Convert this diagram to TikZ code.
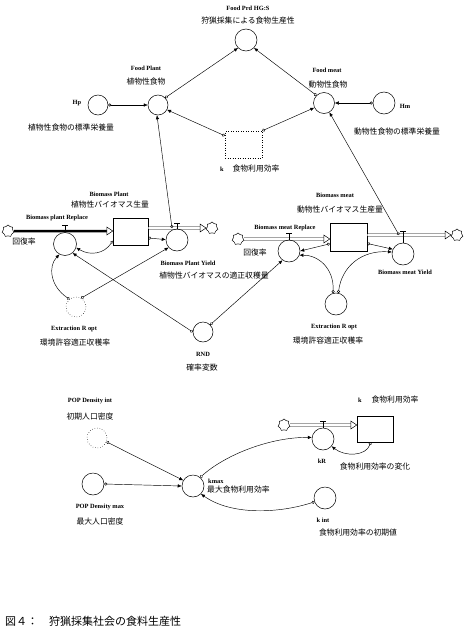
\documentclass[tikz,border=0pt]{standalone}
\usepackage{fontspec}
\setmainfont{Liberation Serif}
\newfontfamily\jp{Noto Sans CJK JP}
\usetikzlibrary{arrows.meta,calc,shapes.symbols}
\newcommand\flowtip[1]{\draw[fill=white,line width=0.5pt] (#1) -- ++(-6,-4) -- ++(0,8) -- cycle;}
\begin{document}
\begin{tikzpicture}[x=1pt,y=-1pt,
 lat/.style={font=\fontsize{6.4}{7}\selectfont\bfseries, inner sep=0pt},
 jpl/.style={font=\jp\fontsize{7.8}{9}\selectfont, inner sep=0pt},
 aux/.style={circle, draw, line width=0.5pt, minimum size=#1, inner sep=0pt},
 aux/.default=21pt,
 stockbox/.style={draw, line width=0.5pt, minimum width=36pt, minimum height=27pt, inner sep=0pt},
 link/.style={line width=0.45pt, {Circle[open,length=3pt,width=3pt]}-{Latex[length=4pt,width=3.5pt]}},
 pipe/.style={double distance=1.6pt, line width=0.5pt},
 cloudy/.style={cloud, cloud puffs=7, draw, minimum width=12pt, minimum height=12pt, aspect=1, inner sep=0pt, line width=0.5pt}
]
\fill[white] (0,0) rectangle (466,629);
\useasboundingbox (0,0) rectangle (466,629);

% ---------- top part ----------
\node[lat] (l1) at (248,8) {Food Prd HG:S};
\node[jpl] (l2) at (248,21) {狩猟採集による食物生産性};
\node[aux=22pt] (top) at (246,40) {};

\node[lat] (l3) at (146,68) {Food Plant};
\node[jpl] (l4) at (146,82) {植物性食物};
\node[aux=20pt] (fp) at (158,105) {};

\node[aux=20pt] (hp) at (98,105) {};
\node[lat] (l5) at (77,103) {Hp};
\node[jpl] (l6) at (71,128) {植物性食物の標準栄養量};

\node[lat] (l7) at (327,70) {Food meat};
\node[jpl] (l8) at (328,85) {動物性食物};
\node[aux=21pt] (fm) at (324,103) {};

\node[aux=22pt] (hm) at (384,103) {};
\node[lat] (l9) at (405,106) {Hm};
\node[jpl] (l10) at (397,132) {動物性食物の標準栄養量};

\node[draw, dotted, line width=0.5pt, minimum width=37pt, minimum height=27pt, inner sep=0pt] (kg) at (243.5,144.5) {};
\node[lat] (l11) at (222,169) {k};
\node[jpl] (l12) at (256,169) {食物利用効率};

\draw[link] (fp.45) -- (top.225);
\draw[link] (fm.135) -- (top.315);
\draw[link] (hp.east) -- (fp.west);
\draw[link] (hm.west) -- (fm.east);
\draw[link] (kg.155) -- (fp.-28);
\draw[link] (kg.north east) -- (fm.206);

% ---------- biomass plant ----------
\node[lat] (l13) at (109,194) {Biomass Plant};
\node[jpl] (l14) at (110,205) {植物性バイオマス生量};
\node[stockbox, minimum width=35pt] (bp) at (130.5,231.5) {};
\node[cloudy] (cl1) at (8,231) {};
\node[cloudy] (cl2) at (212,228) {};
\draw[line width=2.5pt] (cl1.east) -- ($(bp.west |- cl1)+(-6,0)$);
\flowtip{bp.west |- cl1}
\draw[pipe] (bp.east |- cl2) -- ($(cl2.west)+(-6,0)$);
\flowtip{cl2.west}

\node[lat] (l15) at (57,218) {Biomass plant Replace};
\node[jpl] (l16) at (24,242) {回復率};
\node[aux=23pt] (bpr) at (65,244) {};
\draw[line width=0.5pt] (bpr.north) -- ++(0,-7) ++(-3,0) -- ++(6,0);

\node[aux=22pt] (bpy) at (177,240) {};
\draw[line width=0.5pt] (bpy.north) -- ++(0,-6) ++(-3,0) -- ++(6,0);
\node[lat] (l17) at (188,263) {Biomass Plant Yield};
\node[jpl] (l18) at (214,276) {植物性バイオマスの適正収穫量};
\coordinate (bpyv) at (172,228);
\draw[link] (bpyv) -- (fp.-96);

\draw[link] (bp.-20) -- (bpy.178);
\draw[link] (bp.208) .. controls (104,254) and (90,256) .. (bpr.-18);

\node[aux=20pt, dotted] (erl) at (76,307) {};
\node[lat] (l19) at (74,329) {Extraction R opt};
\node[jpl] (l20) at (75,343) {環境許容適正収穫率};
\draw[link] (erl.130) .. controls (50,286) and (48,266) .. (bpr.-118);
\draw[link] (erl.60) -- (bpy.222);

\node[aux=20pt] (rnd) at (203,332) {};
\node[lat] (l21) at (203,354) {RND};
\node[jpl] (l22) at (202,368) {確率変数};
\draw[link] (rnd.west) -- (bpr.-50);

% ---------- biomass meat ----------
\node[lat] (l23) at (335,195) {Biomass meat};
\node[jpl] (l24) at (340,210) {動物性バイオマス生産量};
\node[stockbox, minimum width=37pt, minimum height=28pt] (bm) at (348.5,237) {};
\node[cloudy] (cl3) at (238,239) {};
\node[cloudy] (cl4) at (457,235) {};
\draw[pipe] (cl3.east) -- ($(bm.west |- cl3)+(-6,0)$);
\flowtip{bm.west |- cl3}
\draw[pipe] (bm.east |- cl4) -- ($(cl4.west)+(-6,0)$);
\flowtip{cl4.west}

\node[lat] (l25) at (285,228) {Biomass meat Replace};
\node[jpl] (l26) at (255,253) {回復率};
\node[aux=22pt] (bmr) at (289,251) {};
\draw[line width=0.5pt] (bmr.north) -- ++(0,-7) ++(-3,0) -- ++(6,0);

\node[aux=22pt] (bmy) at (403,254) {};
\draw[line width=0.5pt] (bmy.north) -- ++(0,-12) ++(-3,0) -- ++(6,0);
\node[lat] (l27) at (405,272) {Biomass meat Yield};
\coordinate (bmyv) at (399,235);
\draw[link] (bmyv) -- (fm.-60);

\draw[link] (rnd.45) -- (bmr.235);
\draw[link] (bm.200) -- (bmr.east);
\draw[link] (bm.-19) -- (bmy.155);

\node[aux=22pt] (err) at (336,304) {};
\node[lat] (l28) at (334,327) {Extraction R opt};
\node[jpl] (l29) at (328,341) {環境許容適正収穫率};
\draw[link] (err.105) .. controls (334,268) and (318,255) .. (bmr.-22);
\draw[link] (err.78) .. controls (342,266) and (362,250) .. (bmy.170);

% ---------- k sector ----------
\node[lat] (l30) at (90,401) {POP Density int};
\node[jpl] (l31) at (90,417) {初期人口密度};
\node[aux=20pt, dotted] (pdi) at (97,438) {};

\node[aux=22pt] (pdm) at (93,484) {};
\node[lat] (l32) at (100,507) {POP Density max};
\node[jpl] (l33) at (100,522) {最大人口密度};

\node[aux=22pt] (kmax) at (193,486) {};
\node[lat, anchor=west] (l34) at (208,481) {kmax};
\node[jpl, anchor=west] (l35) at (207,490) {最大食物利用効率};

\node[lat] (l36) at (360,400) {k};
\node[jpl] (l37) at (395,400) {食物利用効率};
\node[stockbox, minimum width=36pt, minimum height=26pt] (kbox) at (375,429) {};
\node[cloudy] (cl5) at (284,425) {};
\draw[pipe] (cl5.east) -- ($(kbox.west |- cl5)+(-6,0)$);
\flowtip{kbox.west |- cl5}

\node[aux=22pt] (kr) at (323,439) {};
\draw[line width=0.5pt] (kr.north) -- ++(0,-7) ++(-3,0) -- ++(6,0);
\node[lat] (l38) at (322,461) {kR};
\node[jpl] (l39) at (375,467) {食物利用効率の変化};

\node[aux=22pt] (kint) at (325,498) {};
\node[lat] (l40) at (323,520) {k int};
\node[jpl] (l41) at (358,533) {食物利用効率の初期値};

\draw[link] (pdi.-22) -- (kmax.150);
\draw[link] (pdm.east) -- (kmax.180);
\draw[link] (kbox.-108) .. controls (366,456) and (345,457) .. (kr.-40);
\draw[link] (kmax.50) .. controls (225,455) and (270,437) .. (kr.172);
\draw[link] (kint.200) .. controls (280,513) and (232,516) .. (kmax.-45);

% ---------- caption ----------
\node[font=\jp\fontsize{11}{12}\selectfont, anchor=west, inner sep=0pt] (cap) at (5,621) {図４：　狩猟採集社会の食料生産性};
\end{tikzpicture}
\end{document}
